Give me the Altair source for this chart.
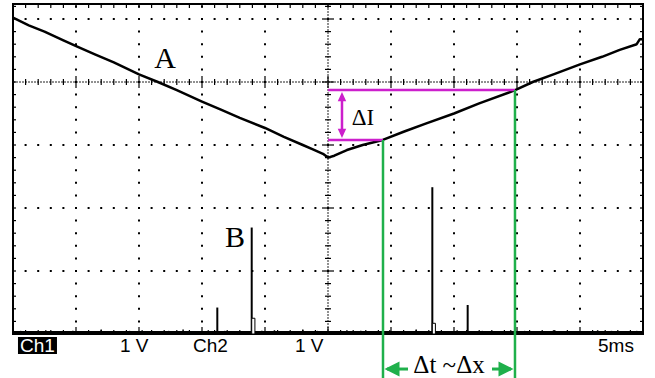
import altair as alt
import pandas as pd

# ---------------- screen geometry (in scope divisions) ----------------
W, H = 630, 330            # plot area in pixels
X_DIVS = 10.0
PX = X_DIVS / W            # one pixel expressed in divisions
Y_TOP = H * PX             # visible part of the screen (divisions)

# ---------------- Trace A (Ch1) : points --------
a_x = [0.00, 0.25, 0.50, 0.80, 1.02, 1.30, 1.60, 2.00, 2.30, 2.60, 3.00,
       3.30, 3.60, 4.00, 4.30, 4.60, 4.76, 4.92, 5.00, 5.10, 5.30, 5.55,
       5.87, 6.20, 6.55, 7.00, 7.40, 7.97, 8.25, 8.60, 9.00, 9.35, 9.63,
       9.90, 9.95, 10.00]
a_y = [5.02, 4.90, 4.80, 4.66, 4.56, 4.44, 4.31, 4.12, 4.00, 3.87, 3.69,
       3.56, 3.43, 3.27, 3.13, 3.00, 2.93, 2.86, 2.80, 2.83, 2.92, 3.00,
       3.08, 3.21, 3.34, 3.50, 3.66, 3.87, 4.00, 4.13, 4.28, 4.40, 4.51,
       4.60, 4.68, 4.68]

# ---------------- Trace B (Ch2) : pulses and baseline noise -----------
b_spike_x = [3.243, 3.789, 6.656, 7.217]
b_spike_h = [0.42, 1.69, 2.33, 0.46]
b_box_x0 = [3.789, 6.656]
b_box_x1 = [3.840, 6.705]
b_box_h = [0.25, 0.17]
b_base = 0.03
noise_x = [0.12, 0.35, 0.52, 0.70, 0.95, 1.18, 1.40, 1.66, 1.85, 2.05, 2.28,
           2.47, 2.70, 2.92, 3.10, 3.36, 3.55, 3.95, 4.15, 4.38, 4.60, 4.83,
           5.05, 5.30, 5.52, 5.75, 5.98, 6.20, 6.40, 6.85, 7.05, 7.45, 7.66,
           7.90, 8.12, 8.35, 8.58, 8.80, 9.05, 9.28, 9.50, 9.72, 9.90]
noise_h = [0.05, 0.04, 0.06, 0.03, 0.05, 0.04, 0.07, 0.03, 0.05, 0.06, 0.04,
           0.05, 0.07, 0.04, 0.06, 0.05, 0.04, 0.05, 0.06, 0.04, 0.07, 0.05,
           0.04, 0.06, 0.05, 0.04, 0.06, 0.05, 0.07, 0.04, 0.06, 0.05, 0.04,
           0.06, 0.05, 0.04, 0.06, 0.05, 0.04, 0.06, 0.05, 0.04, 0.05]

# ---------------- Annotations -------------------------------------------
dI_top, dI_bot = 3.873, 3.079          # levels of the magenta lines
t1, t2 = 5.873, 7.968                  # times of the green cursors
mag_x0 = 5.0
dI_arrow_x = 5.222
dt_arrow_y = -0.556
img_bottom = -0.70

serif_text = ["A", "B", "\u0394I", "\u0394t ~\u0394x"]
serif_x = [2.413, 3.524, 5.556, 6.921]
serif_y = [4.222, 1.381, 3.317, -0.619]
serif_size = [30, 30, 23, 25]

sans_text = ["1 V", "Ch2", "1 V", "5ms"]
sans_x = [1.698, 2.857, 4.476, 9.286]
sans_y = [-0.286, -0.286, -0.286, -0.286]
ch1_text = "Ch1"

MAGENTA = "#cc1fcc"
GREEN = "#1fb04b"

xs = alt.Scale(domain=[0, X_DIVS], nice=False, zero=False)
ys = alt.Scale(domain=[0, Y_TOP], nice=False, zero=False)


def X(f="x"):
    return alt.X(f"{f}:Q", scale=xs, axis=None)


def Y(f="y"):
    return alt.Y(f"{f}:Q", scale=ys, axis=None)


layers = []

# ---- dotted graticule ----
minor = [round(0.2 * k, 3) for k in range(0, 51)]
vgrid = pd.DataFrame({"x": [1, 2, 3, 4, 6, 7, 8, 9], "y": 0.0, "y2": Y_TOP})
layers.append(alt.Chart(vgrid).mark_rule(color="black", strokeWidth=2,
              strokeDash=[2, 10.6], strokeDashOffset=1)
              .encode(x=X(), y=Y(), y2="y2:Q"))
hgrid = pd.DataFrame({"y": [1, 2, 3, 5], "x": 0.0, "x2": X_DIVS})
layers.append(alt.Chart(hgrid).mark_rule(color="black", strokeWidth=2,
              strokeDash=[2, 10.6], strokeDashOffset=1)
              .encode(y=Y(), x=X(), x2="x2:Q"))

# ---- centre axes (fine dashed) with ticks ----
caxes = pd.DataFrame({"x": [0.0, 5.0], "x2": [X_DIVS, 5.0],
                      "y": [4.0, 0.0], "y2": [4.0, Y_TOP]})
layers.append(alt.Chart(caxes).mark_rule(color="#222", strokeWidth=1,
              strokeDash=[2, 1])
              .encode(x=X(), x2="x2:Q", y=Y(), y2="y2:Q"))
rows = []
for v in minor[1:-1]:
    big = abs(v - round(v)) < 1e-6
    L = (6 if big else 3) * PX
    rows.append({"x": v, "x2": v, "y": 4.0 - L, "y2": 4.0 + L})
for v in minor[1:]:
    if v > Y_TOP:
        break
    big = abs(v - round(v)) < 1e-6
    L = (6 if big else 3) * PX
    rows.append({"x": 5.0 - L, "x2": 5.0 + L, "y": v, "y2": v})
# ---- frame ticks ----
for v in minor[1:-1]:
    rows.append({"x": v, "x2": v, "y": Y_TOP, "y2": Y_TOP - 4 * PX})
    big = abs(v - round(v)) < 1e-6
    rows.append({"x": v, "x2": v, "y": 0, "y2": (7 if big else 4) * PX})
for v in minor[1:]:
    if v > Y_TOP:
        break
    rows.append({"x": 0, "x2": 3 * PX, "y": v, "y2": v})
    rows.append({"x": X_DIVS, "x2": X_DIVS - 3 * PX, "y": v, "y2": v})
ticks = pd.DataFrame(rows)
layers.append(alt.Chart(ticks).mark_rule(color="black", strokeWidth=1.2)
              .encode(x=X(), x2="x2:Q", y=Y(), y2="y2:Q"))

# ---- Trace B ----
base = pd.DataFrame({"x": [0.0], "x2": [X_DIVS], "y": [b_base]})
layers.append(alt.Chart(base).mark_rule(color="black", strokeWidth=2)
              .encode(x=X(), x2="x2:Q", y=Y()))
noise = pd.DataFrame({"x": noise_x, "h": noise_h, "y": 0.0})
layers.append(alt.Chart(noise).mark_rule(color="black", strokeWidth=1.5)
              .encode(x=X(), y=Y(), y2="h:Q"))
spikes = pd.DataFrame({"x": b_spike_x, "h": b_spike_h, "y": 0.0})
layers.append(alt.Chart(spikes).mark_rule(color="black", strokeWidth=2)
              .encode(x=X(), y=Y(), y2="h:Q"))
boxes = pd.DataFrame({"x": b_box_x0, "x2": b_box_x1, "h": b_box_h, "y": 0.0})
layers.append(alt.Chart(boxes).mark_rect(fill="white", stroke="black",
              strokeWidth=1)
              .encode(x=X(), x2="x2:Q", y=Y(), y2="h:Q"))

# ---- Trace A ----
trace_a = pd.DataFrame({"x": a_x, "y": a_y})
layers.append(alt.Chart(trace_a).mark_line(color="black", strokeWidth=2.5,
              strokeJoin="round")
              .encode(x=X(), y=Y()))

# ---- magenta delta-I construction ----
mag = pd.DataFrame({"x": [mag_x0, mag_x0], "x2": [t2, t1],
                    "y": [dI_top, dI_bot]})
layers.append(alt.Chart(mag).mark_rule(color=MAGENTA, strokeWidth=2.5)
              .encode(x=X(), x2="x2:Q", y=Y()))
mshaft = pd.DataFrame({"x": [dI_arrow_x], "y": [dI_top - 6 * PX],
                       "y2": [dI_bot + 6 * PX]})
layers.append(alt.Chart(mshaft).mark_rule(color=MAGENTA, strokeWidth=2.5)
              .encode(x=X(), y=Y(), y2="y2:Q"))
layers.append(alt.Chart(pd.DataFrame({"x": [dI_arrow_x],
                                      "y": [dI_top - 2 * PX]}))
              .mark_point(shape="M0,0L-1,2.2L1,2.2Z", filled=True, size=72,
                          color=MAGENTA, opacity=1)
              .encode(x=X(), y=Y()))
layers.append(alt.Chart(pd.DataFrame({"x": [dI_arrow_x],
                                      "y": [dI_bot + 2 * PX]}))
              .mark_point(shape="M0,0L-1,-2.2L1,-2.2Z", filled=True, size=72,
                          color=MAGENTA, opacity=1)
              .encode(x=X(), y=Y()))

# ---- green delta-t cursors ----
green = pd.DataFrame({"x": [t1, t2], "y": [dI_bot, dI_top],
                      "y2": [img_bottom, img_bottom]})
layers.append(alt.Chart(green).mark_rule(color=GREEN, strokeWidth=2.5)
              .encode(x=X(), y=Y(), y2="y2:Q"))
gshaft = pd.DataFrame({"x": [t1 + 4 * PX, t2 - 23 * PX],
                       "x2": [t1 + 25 * PX, t2 - 4 * PX],
                       "y": [dt_arrow_y, dt_arrow_y]})
layers.append(alt.Chart(gshaft).mark_rule(color=GREEN, strokeWidth=3)
              .encode(x=X(), x2="x2:Q", y=Y()))
layers.append(alt.Chart(pd.DataFrame({"x": [t1 + 1.5 * PX], "y": [dt_arrow_y]}))
              .mark_point(shape="M0,0L2,-1L2,1Z", filled=True, size=225,
                          color=GREEN, opacity=1)
              .encode(x=X(), y=Y()))
layers.append(alt.Chart(pd.DataFrame({"x": [t2 - 1.5 * PX], "y": [dt_arrow_y]}))
              .mark_point(shape="M0,0L-2,-1L-2,1Z", filled=True, size=225,
                          color=GREEN, opacity=1)
              .encode(x=X(), y=Y()))

# ---- texts ----
serif = pd.DataFrame({"x": serif_x, "y": serif_y, "t": serif_text,
                      "s": serif_size})
layers.append(alt.Chart(serif).mark_text(font="Liberation Serif",
              color="black", align="center", baseline="alphabetic")
              .encode(x=X(), y=Y(), text="t:N",
                      size=alt.Size("s:Q", scale=None, legend=None)))

ch1_box = pd.DataFrame({"x": [0.079], "x2": [0.698], "y": [-0.048],
                        "y2": [-0.317]})
layers.append(alt.Chart(ch1_box).mark_rect(color="black")
              .encode(x=X(), x2="x2:Q", y=Y(), y2="y2:Q"))
layers.append(alt.Chart(pd.DataFrame({"x": [0.11], "y": [-0.286],
                                      "t": [ch1_text]}))
              .mark_text(font="Liberation Sans", fontSize=19, color="white",
                         align="left", baseline="alphabetic")
              .encode(x=X(), y=Y(), text="t:N"))
sans = pd.DataFrame({"x": sans_x, "y": sans_y, "t": sans_text})
layers.append(alt.Chart(sans).mark_text(font="Liberation Sans", fontSize=19,
              color="black", align="left", baseline="alphabetic")
              .encode(x=X(), y=Y(), text="t:N"))

chart = (alt.layer(*layers)
         .properties(width=W, height=H,
                     autosize=alt.AutoSizeParams(type="none"),
                     padding={"left": 13, "top": 4, "right": 12, "bottom": 44},
                     background="white")
         .configure_view(stroke="black", strokeWidth=2))

chart.save("out.html", embed_options={"renderer": "svg", "actions": False})
